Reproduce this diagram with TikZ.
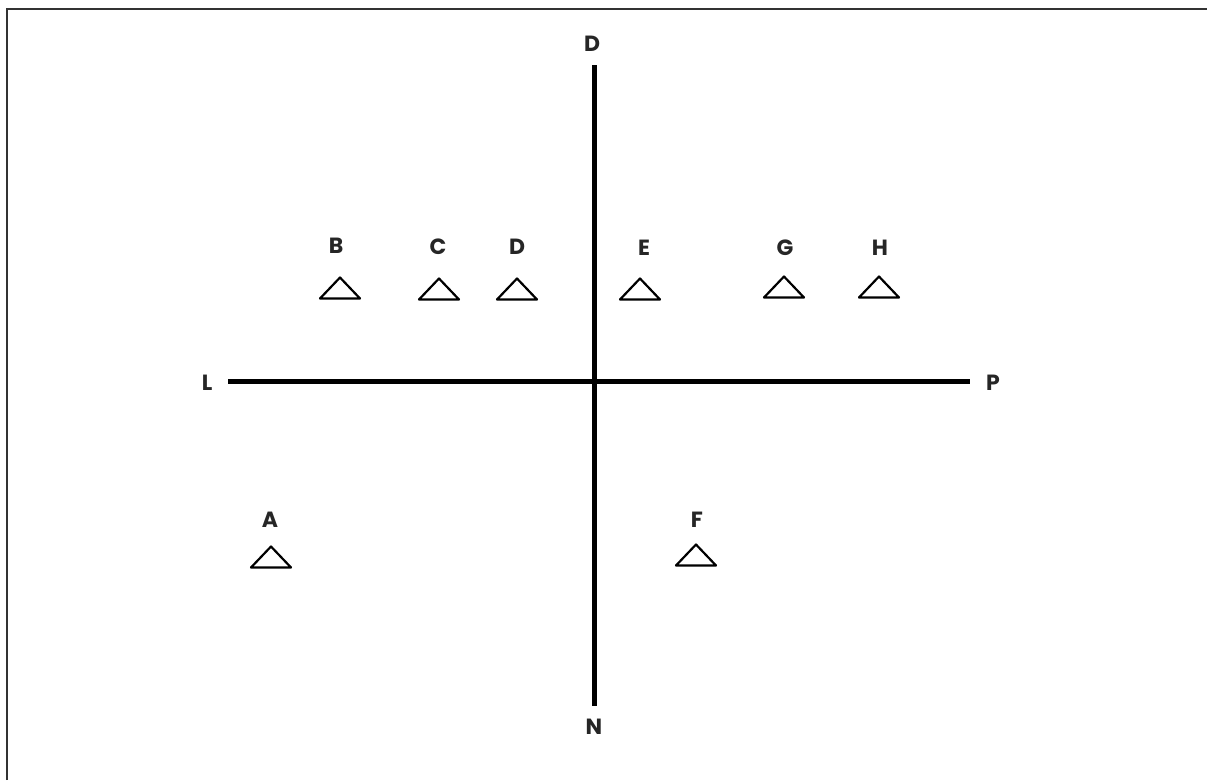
\documentclass[tikz,border=0pt]{standalone}
\usepackage{fontspec}
\setmainfont{Poppins}
\begin{document}
\begin{tikzpicture}[x=1pt,y=-1pt,
  lbl/.style={font=\fontsize{22}{24}\selectfont\bfseries, text=black!85, inner sep=0pt},
  axis/.style={line width=5pt, draw=black},
  frame/.style={line width=2pt, draw=black!80},
  marker/.pic={\draw[line width=2.2pt, line join=round, line cap=round] (-20,10.5) -- (0,-10.5) -- (20,10.5) -- cycle;}
]
\useasboundingbox (0,0) rectangle (1207,780);
\draw[frame] (7,780) -- (7,9) -- (1207,9);
% axes
\coordinate (top) at (594,65);
\coordinate (bot) at (594,706);
\coordinate (left) at (228,381);
\coordinate (right) at (970,381);
\draw[axis] (top) -- (bot);
\draw[axis] (left) -- (right);
\node[lbl] (lD) at (592,44) {D};
\node[lbl] (lN) at (594,727) {N};
\node[lbl] (lL) at (207,383) {L};
\node[lbl] (lP) at (993,383) {P};
% markers
\pic at (340,288) {marker}; \node[lbl] (mB) at (336,246) {B};
\pic at (439,289) {marker}; \node[lbl] (mC) at (438,247) {C};
\pic at (517,289) {marker}; \node[lbl] (mD) at (517,247) {D};
\pic at (640,289) {marker}; \node[lbl] (mE) at (644,248) {E};
\pic at (784,287) {marker}; \node[lbl] (mG) at (785,248) {G};
\pic at (879,287) {marker}; \node[lbl] (mH) at (880,248) {H};
\pic at (271,557) {marker}; \node[lbl] (mA) at (270,520) {A};
\pic at (696,555) {marker}; \node[lbl] (mF) at (697,520) {F};
\end{tikzpicture}
\end{document}
